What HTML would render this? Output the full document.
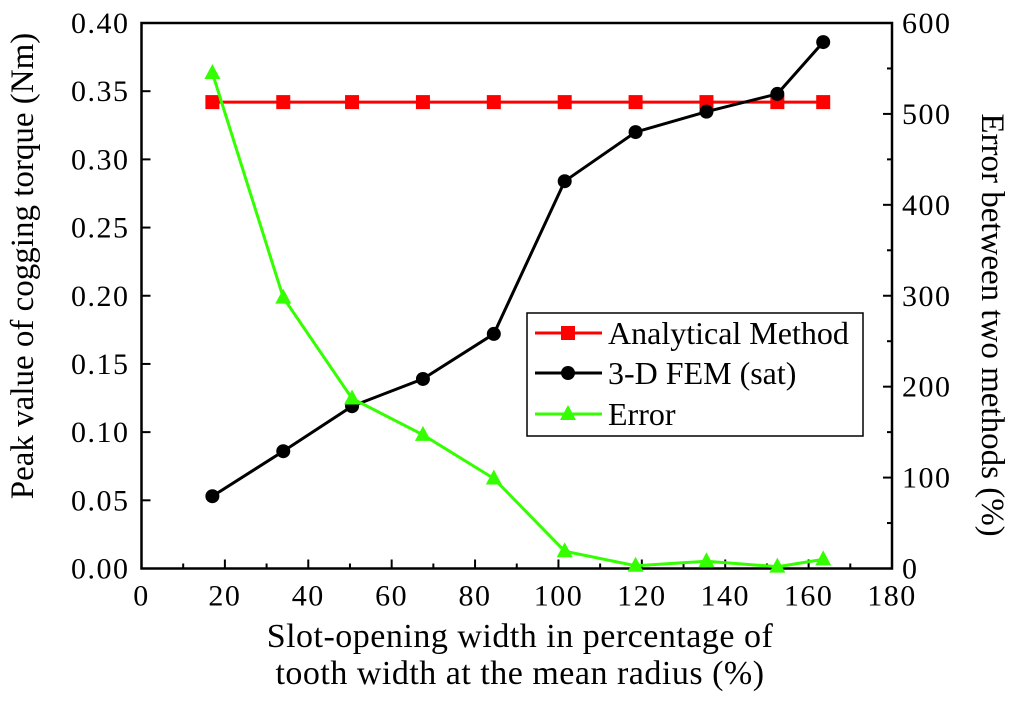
<!DOCTYPE html>
<html><head><meta charset="utf-8"><style>
html,body{margin:0;padding:0;background:#fff;}
svg text{font-family:"Liberation Serif",serif;fill:#000;}
</style></head><body>
<svg id="c" width="1024" height="697" xmlns="http://www.w3.org/2000/svg"></svg>
<script>
const xVals=[17,34,50.5,67.5,84.5,101.5,118.5,135.5,152.5,163.5];
const analytical=[0.342,0.342,0.342,0.342,0.342,0.342,0.342,0.342,0.342,0.342];
const fem=[0.053,0.086,0.119,0.139,0.172,0.284,0.320,0.335,0.348,0.386];
const errorPct=[545,298,187,147,99,19,3,8,2,10];
const xTicks=[0,20,40,60,80,100,120,140,160,180];
const yTicks=[0,0.05,0.10,0.15,0.20,0.25,0.30,0.35,0.40];
const y2Ticks=[0,100,200,300,400,500,600];

const L=141.5,R=892,T=23,B=568.5;
const sx=v=>L+(v-0)/180*(R-L);
const sy=v=>B-v/0.4*(B-T);
const sy2=v=>B-v/600*(B-T);
const svg=document.getElementById('c');
const NS='http://www.w3.org/2000/svg';
function mk(tag,attrs,parent){const e=document.createElementNS(NS,tag);for(const k in attrs)e.setAttribute(k,attrs[k]);(parent||svg).appendChild(e);return e;}

const frame=mk('rect',{x:L,y:T,width:R-L,height:B-T,fill:'none',stroke:'#000','stroke-width':2.5});



const TS=30, LS='1.5px';
xTicks.forEach(v=>{
  mk('line',{x1:sx(v),x2:sx(v),y1:B,y2:B-9,stroke:'#000','stroke-width':2});
  const t=mk('text',{x:sx(v),y:B+37,'text-anchor':'middle','font-size':TS,'letter-spacing':LS});t.textContent=v;
  
  
});
for(let v=10;v<180;v+=20){mk('line',{x1:sx(v),x2:sx(v),y1:B,y2:B-5,stroke:'#000','stroke-width':2});}
yTicks.forEach(v=>{
  mk('line',{x1:L,x2:L+9,y1:sy(v),y2:sy(v),stroke:'#000','stroke-width':2});
  const t=mk('text',{x:L-12,y:sy(v)+10,'text-anchor':'end','font-size':TS,'letter-spacing':LS});t.textContent=v.toFixed(2);
  
  
});
y2Ticks.forEach(v=>{
  mk('line',{x1:R,x2:R-9,y1:sy2(v),y2:sy2(v),stroke:'#000','stroke-width':2});
  const t=mk('text',{x:R+10,y:sy2(v)+10,'text-anchor':'start','font-size':TS,'letter-spacing':LS});t.textContent=v;
  
  
});
for(let v=50;v<600;v+=100){mk('line',{x1:R,x2:R-5,y1:sy2(v),y2:sy2(v),stroke:'#000','stroke-width':2});}

function series(vals,yf,color,marker,name){
  const g=mk('g',{});
  
  
  mk('polyline',{points:vals.map((v,i)=>sx(xVals[i])+','+yf(v)).join(' '),fill:'none',stroke:color,'stroke-width':3},g);
  vals.forEach((v,i)=>drawMarker(g,marker,sx(xVals[i]),yf(v),color));
}
function drawMarker(g,m,x,y,c){
  let e;
  if(m==='sq')e=mk('rect',{x:x-7,y:y-7,width:14,height:14,fill:c},g);
  else if(m==='ci')e=mk('circle',{cx:x,cy:y,r:7,fill:c},g);
  else e=mk('polygon',{points:`${x},${y-9} ${x-8},${y+6} ${x+8},${y+6}`,fill:c},g);
  
  
}
series(analytical,sy,'#ff0000','sq','analytical-series');
series(fem,sy,'#000000','ci','fem-series');
series(errorPct,sy2,'#33ff00','tr','error-series');

const lg=mk('g',{});


mk('rect',{x:527,y:313,width:336,height:123,fill:'#fff',stroke:'#000','stroke-width':1.5},lg);
[['Analytical Method','#ff0000','sq',333],['3-D FEM (sat)','#000000','ci',373],['Error','#33ff00','tr',414]].forEach(([n,c,m,y])=>{
  const eg=mk('g',{},lg);
  
  
  mk('line',{x1:535,x2:602,y1:y,y2:y,stroke:c,'stroke-width':3},eg);
  drawMarker(eg,m,568,y,c);
  const t=mk('text',{x:608,y:y+11,'font-size':32},eg);t.textContent=n;
});

const xt1=mk('text',{x:520,y:647,'text-anchor':'middle','font-size':34,'letter-spacing':'0.5px'});xt1.textContent='Slot-opening width in percentage of';


const xt2=mk('text',{x:520,y:684,'text-anchor':'middle','font-size':34,'letter-spacing':'0.5px'});xt2.textContent='tooth width at the mean radius (%)';


const yt=mk('text',{x:0,y:0,'text-anchor':'middle','font-size':33,transform:`translate(33,266) rotate(-90)`});yt.textContent='Peak value of cogging torque (Nm)';


const yt2=mk('text',{x:0,y:0,'text-anchor':'middle','font-size':33,transform:`translate(982,325) rotate(90)`});yt2.textContent='Error between two methods (%)';


</script>
</body></html>
